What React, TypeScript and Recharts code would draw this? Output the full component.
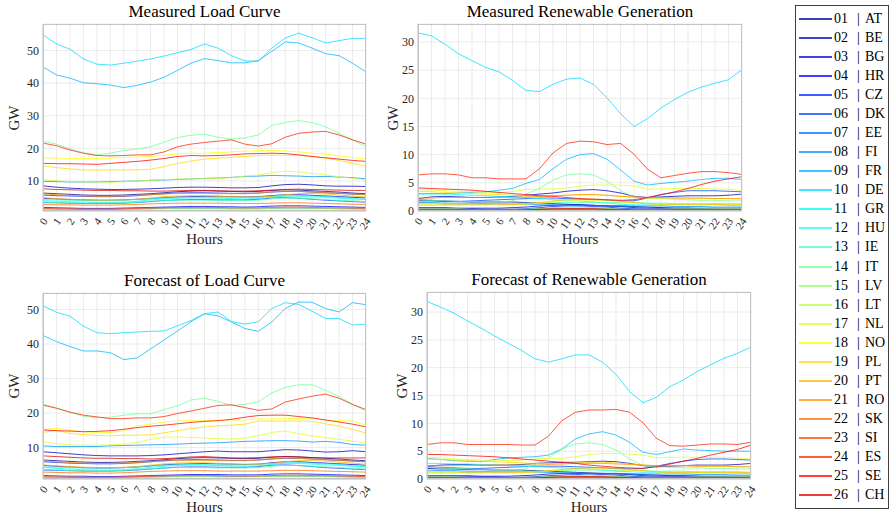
import React from 'react';
import { LineChart, Line, XAxis, YAxis, CartesianGrid } from 'recharts';

const countries = ['AT', 'BE', 'BG', 'HR', 'CZ', 'DK', 'EE', 'FI', 'FR', 'DE', 'GR', 'HU', 'IE',
  'IT', 'LV', 'LT', 'NL', 'NO', 'PL', 'PT', 'RO', 'SK', 'SI', 'ES', 'SE', 'CH'];

// jet(26)
const colors = ['#000092', '#0000b6', '#0000db', '#0000ff', '#0024ff', '#0049ff', '#006dff',
  '#0092ff', '#00b6ff', '#00dbff', '#00ffff', '#24ffdb', '#49ffb6', '#6dff92', '#92ff6d',
  '#b6ff49', '#dbff24', '#ffff00', '#ffdb00', '#ffb600', '#ff9200', '#ff6d00', '#ff4900',
  '#ff2400', '#ff0000', '#db0000'];

const hours = [0, 1, 2, 3, 4, 5, 6, 7, 8, 9, 10, 11, 12, 13, 14, 15, 16, 17, 18, 19, 20, 21, 22, 23, 24];

const measuredLoad: number[][] = [
  [6.3, 6.1, 5.9, 5.7, 5.6, 5.6, 5.7, 5.9, 6.1, 6.4, 6.7, 6.9, 7.0, 6.9, 6.8, 6.7, 6.8, 7.1, 7.3, 7.2, 7.0, 6.8, 6.6, 6.3, 6.1],
  [8.5, 8.1, 7.8, 7.6, 7.5, 7.4, 7.4, 7.5, 7.6, 7.8, 8.0, 8.1, 8.1, 8.0, 7.9, 7.9, 8.0, 8.5, 8.9, 9.0, 8.8, 8.5, 8.4, 8.4, 8.3],
  [4.7, 4.5, 4.3, 4.2, 4.1, 4.1, 4.2, 4.4, 4.6, 4.9, 5.1, 5.2, 5.3, 5.3, 5.2, 5.1, 5.2, 5.5, 5.8, 5.8, 5.6, 5.4, 5.2, 5.0, 4.8],
  [1.9, 1.8, 1.7, 1.6, 1.6, 1.6, 1.7, 1.8, 1.9, 2.0, 2.1, 2.2, 2.2, 2.1, 2.1, 2.0, 2.1, 2.3, 2.4, 2.4, 2.3, 2.2, 2.1, 2.0, 1.9],
  [5.7, 5.5, 5.4, 5.3, 5.2, 5.2, 5.3, 5.5, 5.8, 6.1, 6.3, 6.4, 6.4, 6.3, 6.2, 6.2, 6.3, 6.6, 6.8, 6.8, 6.6, 6.4, 6.2, 6.0, 5.8],
  [3.4, 3.3, 3.2, 3.1, 3.1, 3.1, 3.2, 3.4, 3.7, 4.0, 4.2, 4.3, 4.3, 4.2, 4.2, 4.2, 4.4, 4.8, 4.9, 4.7, 4.4, 4.1, 3.9, 3.7, 3.5],
  [1.4, 1.3, 1.3, 1.2, 1.2, 1.2, 1.3, 1.4, 1.5, 1.6, 1.6, 1.6, 1.6, 1.6, 1.5, 1.5, 1.5, 1.6, 1.7, 1.7, 1.6, 1.6, 1.5, 1.5, 1.4],
  [9.9, 9.8, 9.7, 9.7, 9.7, 9.8, 9.9, 10.0, 10.2, 10.3, 10.5, 10.6, 10.8, 10.9, 11.1, 11.4, 11.5, 11.7, 11.6, 11.5, 11.3, 11.4, 11.2, 11.0, 10.7],
  [44.9, 42.5, 41.5, 40.1, 39.8, 39.4, 38.6, 39.3, 40.3, 41.8, 43.9, 46.1, 47.5, 46.9, 46.2, 46.2, 46.9, 49.7, 52.6, 52.3, 50.7, 49.0, 48.4, 46.1, 43.4],
  [54.8, 52.0, 50.4, 47.4, 45.8, 45.5, 46.1, 46.7, 47.4, 48.3, 49.3, 50.3, 52.0, 50.7, 48.4, 46.8, 46.7, 50.7, 53.8, 55.3, 53.9, 52.3, 53.0, 53.7, 53.7],
  [4.0, 3.8, 3.6, 3.5, 3.4, 3.4, 3.5, 3.8, 4.2, 4.5, 4.7, 4.8, 4.8, 4.7, 4.6, 4.5, 4.6, 5.0, 5.4, 5.5, 5.4, 5.2, 5.0, 4.6, 4.3],
  [4.3, 4.2, 4.1, 4.0, 4.0, 4.0, 4.1, 4.3, 4.6, 4.8, 4.9, 5.0, 5.0, 4.9, 4.9, 4.9, 5.0, 5.3, 5.4, 5.3, 5.1, 4.9, 4.7, 4.5, 4.4],
  [3.6, 3.4, 3.3, 3.2, 3.2, 3.2, 3.3, 3.5, 3.8, 4.0, 4.1, 4.1, 4.1, 4.0, 4.0, 4.0, 4.1, 4.5, 4.8, 4.7, 4.5, 4.3, 4.1, 3.9, 3.7],
  [22.2, 21.3, 19.8, 18.7, 18.0, 18.5, 19.3, 19.8, 20.5, 21.9, 23.3, 24.0, 24.3, 23.4, 22.8, 23.2, 24.1, 27.0, 27.9, 28.5, 27.9, 26.6, 24.6, 22.6, 20.5],
  [0.9, 0.9, 0.8, 0.8, 0.8, 0.8, 0.8, 0.9, 0.9, 1.0, 1.0, 1.0, 1.0, 1.0, 1.0, 1.0, 1.0, 1.0, 1.1, 1.1, 1.0, 1.0, 1.0, 0.9, 0.9],
  [1.3, 1.2, 1.2, 1.1, 1.1, 1.1, 1.2, 1.3, 1.4, 1.5, 1.5, 1.5, 1.5, 1.5, 1.5, 1.5, 1.5, 1.6, 1.7, 1.7, 1.6, 1.6, 1.5, 1.4, 1.3],
  [10.3, 10.1, 9.8, 9.7, 9.7, 9.6, 9.8, 10.0, 10.2, 10.4, 10.6, 10.6, 10.7, 10.8, 11.0, 11.5, 11.8, 12.6, 13.0, 12.8, 12.3, 11.9, 11.3, 10.8, 10.3],
  [17.1, 17.0, 16.9, 16.9, 16.9, 17.0, 17.2, 17.3, 17.5, 17.9, 18.3, 18.5, 18.5, 18.7, 18.9, 19.1, 19.3, 19.4, 19.2, 18.9, 18.5, 18.2, 17.7, 17.2, 16.7],
  [14.7, 14.1, 13.7, 13.4, 13.3, 13.4, 13.4, 13.4, 13.6, 14.4, 15.4, 16.1, 16.7, 17.0, 17.2, 17.5, 17.8, 17.9, 17.9, 17.9, 17.5, 17.0, 16.3, 15.4, 14.6],
  [4.9, 4.6, 4.4, 4.2, 4.1, 4.1, 4.2, 4.4, 4.8, 5.2, 5.4, 5.5, 5.5, 5.3, 5.2, 5.1, 5.1, 5.3, 5.8, 6.1, 6.2, 6.0, 5.7, 5.4, 5.1],
  [6.0, 5.8, 5.6, 5.4, 5.3, 5.3, 5.4, 5.6, 5.8, 6.0, 6.2, 6.2, 6.2, 6.1, 6.1, 6.1, 6.3, 6.7, 6.9, 6.8, 6.6, 6.4, 6.2, 6.0, 5.8],
  [2.8, 2.7, 2.7, 2.6, 2.6, 2.6, 2.7, 2.8, 3.0, 3.1, 3.2, 3.2, 3.2, 3.2, 3.1, 3.1, 3.1, 3.2, 3.3, 3.3, 3.2, 3.1, 3.0, 2.9, 2.8],
  [1.6, 1.5, 1.5, 1.4, 1.4, 1.4, 1.5, 1.6, 1.7, 1.8, 1.9, 1.9, 1.9, 1.9, 1.8, 1.8, 1.8, 1.9, 2.0, 2.0, 1.9, 1.8, 1.8, 1.7, 1.6],
  [21.6, 20.8, 19.5, 18.5, 17.8, 17.7, 17.8, 18.0, 18.0, 18.9, 20.5, 21.3, 21.8, 22.2, 22.6, 21.3, 20.7, 21.4, 23.4, 24.6, 25.0, 25.2, 24.1, 22.6, 21.3],
  [15.4, 15.3, 15.3, 15.2, 15.1, 15.4, 15.7, 16.0, 16.4, 16.9, 17.5, 17.8, 17.7, 17.8, 18.0, 18.3, 18.4, 18.5, 18.4, 18.0, 17.5, 17.1, 16.7, 16.3, 16.0],
  [7.6, 7.4, 7.3, 7.2, 7.1, 7.1, 7.0, 7.0, 6.9, 6.9, 7.0, 7.1, 7.1, 7.0, 6.9, 6.9, 7.0, 7.2, 7.4, 7.5, 7.4, 7.3, 7.2, 7.1, 7.1],
];

const measuredRenewable: number[][] = [
  [1.8, 1.8, 1.7, 1.7, 1.6, 1.6, 1.6, 1.6, 1.5, 1.4, 1.3, 1.2, 1.1, 1.0, 0.9, 0.9, 0.8, 0.7, 0.6, 0.5, 0.5, 0.4, 0.3, 0.2, 0.1],
  [2.2, 2.5, 2.6, 2.5, 2.4, 2.4, 2.5, 2.6, 2.8, 3.0, 3.2, 3.5, 3.7, 3.8, 3.6, 3.2, 2.6, 2.4, 2.5, 2.6, 2.7, 2.7, 2.7, 2.8, 3.0],
  [0.6, 0.6, 0.6, 0.5, 0.5, 0.5, 0.5, 0.6, 0.7, 0.9, 1.0, 1.1, 1.1, 1.0, 0.9, 0.8, 0.6, 0.5, 0.5, 0.5, 0.5, 0.5, 0.5, 0.5, 0.5],
  [0.4, 0.4, 0.4, 0.4, 0.4, 0.3, 0.3, 0.3, 0.3, 0.4, 0.4, 0.4, 0.4, 0.4, 0.4, 0.3, 0.3, 0.3, 0.3, 0.3, 0.3, 0.3, 0.3, 0.3, 0.3],
  [0.3, 0.3, 0.3, 0.3, 0.3, 0.3, 0.3, 0.3, 0.4, 0.6, 0.8, 0.9, 0.9, 0.8, 0.7, 0.5, 0.4, 0.3, 0.3, 0.3, 0.3, 0.3, 0.3, 0.3, 0.3],
  [2.0, 1.9, 1.8, 1.7, 1.8, 1.9, 2.0, 2.1, 2.2, 2.3, 2.3, 2.2, 2.1, 2.0, 1.9, 1.8, 1.8, 2.3, 2.9, 3.3, 3.6, 3.6, 3.6, 3.5, 3.4],
  [0.2, 0.2, 0.2, 0.2, 0.2, 0.2, 0.2, 0.2, 0.2, 0.3, 0.3, 0.3, 0.3, 0.3, 0.3, 0.2, 0.2, 0.2, 0.2, 0.2, 0.2, 0.2, 0.2, 0.2, 0.2],
  [1.5, 1.5, 1.4, 1.4, 1.4, 1.3, 1.3, 1.2, 1.2, 1.1, 1.1, 1.0, 1.0, 1.0, 0.9, 0.9, 0.9, 0.9, 0.9, 0.8, 0.8, 0.8, 0.7, 0.7, 0.7],
  [3.1, 3.1, 3.1, 3.2, 3.3, 3.4, 3.7, 4.0, 4.9, 5.6, 7.5, 9.2, 10.0, 10.2, 9.2, 7.3, 5.3, 4.6, 4.9, 5.1, 5.3, 5.6, 5.8, 5.8, 5.6],
  [31.6, 31.1, 29.6, 27.9, 26.7, 25.5, 24.7, 23.2, 21.4, 21.2, 22.5, 23.4, 23.6, 22.5, 20.1, 17.3, 15.0, 16.4, 18.3, 19.8, 21.1, 22.0, 22.7, 23.3, 25.1],
  [3.0, 3.0, 3.0, 2.9, 2.8, 2.7, 2.6, 2.5, 2.4, 2.2, 2.0, 1.9, 1.8, 1.6, 1.4, 1.2, 1.1, 1.1, 1.1, 1.1, 1.1, 1.1, 1.1, 1.0, 0.9],
  [0.2, 0.2, 0.2, 0.2, 0.2, 0.2, 0.2, 0.2, 0.3, 0.4, 0.6, 0.7, 0.7, 0.6, 0.5, 0.3, 0.2, 0.2, 0.2, 0.2, 0.2, 0.2, 0.2, 0.2, 0.2],
  [1.0, 1.0, 1.1, 1.1, 1.2, 1.2, 1.3, 1.3, 1.4, 1.4, 1.5, 1.5, 1.5, 1.5, 1.5, 1.5, 1.5, 1.4, 1.4, 1.3, 1.3, 1.3, 1.3, 1.3, 1.3],
  [2.0, 1.9, 1.8, 1.7, 1.7, 1.6, 1.6, 1.8, 3.0, 4.0, 5.5, 6.4, 6.6, 6.4, 5.3, 3.6, 2.5, 2.3, 2.2, 2.1, 2.0, 1.9, 1.9, 1.8, 1.8],
  [0.1, 0.1, 0.1, 0.1, 0.1, 0.1, 0.1, 0.1, 0.1, 0.1, 0.2, 0.2, 0.2, 0.2, 0.1, 0.1, 0.1, 0.1, 0.1, 0.1, 0.1, 0.1, 0.1, 0.1, 0.1],
  [0.4, 0.4, 0.4, 0.4, 0.3, 0.3, 0.3, 0.3, 0.3, 0.4, 0.4, 0.5, 0.5, 0.4, 0.4, 0.3, 0.3, 0.3, 0.3, 0.4, 0.4, 0.4, 0.4, 0.4, 0.4],
  [3.8, 3.7, 3.6, 3.5, 3.4, 3.3, 3.3, 3.5, 3.8, 3.9, 3.9, 4.1, 4.4, 4.6, 4.6, 4.6, 4.4, 3.9, 3.9, 4.0, 4.0, 4.0, 3.9, 3.9, 3.6],
  [1.1, 1.1, 1.0, 1.0, 1.0, 1.0, 1.0, 1.1, 1.2, 1.4, 1.6, 1.8, 1.9, 1.9, 1.8, 1.6, 1.4, 1.3, 1.2, 1.2, 1.2, 1.1, 1.1, 1.1, 1.1],
  [3.5, 3.4, 3.3, 3.2, 3.1, 3.0, 2.9, 2.8, 2.7, 2.7, 2.7, 2.8, 2.9, 2.9, 2.8, 2.6, 2.4, 2.3, 2.3, 2.3, 2.3, 2.2, 2.2, 2.2, 2.1],
  [1.3, 1.3, 1.2, 1.2, 1.2, 1.2, 1.2, 1.2, 1.3, 1.5, 1.8, 2.0, 2.1, 2.1, 2.0, 1.8, 1.5, 1.3, 1.2, 1.2, 1.2, 1.2, 1.2, 1.1, 1.1],
  [2.3, 2.3, 2.4, 2.4, 2.4, 2.4, 2.4, 2.4, 2.5, 2.6, 2.7, 2.8, 2.9, 2.9, 2.8, 2.6, 2.5, 2.4, 2.4, 2.3, 2.3, 2.3, 2.2, 2.2, 2.2],
  [0.1, 0.1, 0.1, 0.1, 0.1, 0.1, 0.1, 0.1, 0.2, 0.3, 0.3, 0.4, 0.4, 0.3, 0.3, 0.2, 0.1, 0.1, 0.1, 0.1, 0.1, 0.1, 0.1, 0.1, 0.1],
  [0.1, 0.1, 0.1, 0.1, 0.1, 0.1, 0.1, 0.1, 0.1, 0.2, 0.2, 0.2, 0.2, 0.2, 0.2, 0.1, 0.1, 0.1, 0.1, 0.1, 0.1, 0.1, 0.1, 0.1, 0.1],
  [6.4, 6.6, 6.6, 6.4, 5.9, 5.9, 5.7, 5.7, 5.7, 7.5, 10.3, 12.0, 12.4, 12.3, 11.8, 12.0, 10.1, 7.4, 5.9, 6.3, 6.7, 7.0, 7.0, 6.8, 6.5],
  [4.1, 4.0, 3.9, 3.8, 3.7, 3.5, 3.3, 3.1, 2.9, 2.7, 2.6, 2.4, 2.2, 2.1, 2.0, 1.9, 2.0, 2.4, 2.9, 3.4, 4.0, 4.7, 5.3, 5.7, 6.1],
  [0.2, 0.2, 0.2, 0.2, 0.2, 0.2, 0.2, 0.2, 0.2, 0.3, 0.4, 0.4, 0.4, 0.4, 0.3, 0.3, 0.2, 0.2, 0.2, 0.2, 0.2, 0.2, 0.2, 0.2, 0.2],
];

const forecastLoad: number[][] = [
  [6.4, 6.2, 6.0, 5.8, 5.7, 5.7, 5.8, 6.0, 6.2, 6.5, 6.8, 7.0, 7.1, 7.0, 6.9, 6.8, 6.9, 7.2, 7.4, 7.3, 7.1, 6.9, 6.7, 6.4, 6.2],
  [8.8, 8.5, 8.2, 7.9, 7.7, 7.6, 7.6, 7.6, 7.7, 7.9, 8.2, 8.5, 8.8, 9.0, 8.8, 8.8, 8.8, 9.1, 9.4, 9.3, 9.0, 8.7, 8.8, 9.1, 8.8],
  [4.8, 4.6, 4.4, 4.2, 4.1, 4.1, 4.2, 4.4, 4.7, 5.0, 5.2, 5.3, 5.4, 5.3, 5.2, 5.1, 5.2, 5.6, 5.9, 5.9, 5.7, 5.5, 5.3, 5.1, 4.9],
  [1.9, 1.8, 1.7, 1.7, 1.6, 1.6, 1.7, 1.8, 1.9, 2.0, 2.1, 2.2, 2.2, 2.2, 2.1, 2.1, 2.1, 2.3, 2.4, 2.4, 2.3, 2.2, 2.1, 2.0, 1.9],
  [5.9, 5.7, 5.5, 5.4, 5.3, 5.3, 5.4, 5.6, 5.9, 6.2, 6.4, 6.5, 6.5, 6.4, 6.3, 6.3, 6.4, 6.7, 6.9, 6.9, 6.7, 6.5, 6.3, 6.1, 5.9],
  [3.5, 3.4, 3.3, 3.2, 3.2, 3.2, 3.3, 3.5, 3.8, 4.1, 4.3, 4.4, 4.4, 4.3, 4.3, 4.3, 4.5, 4.9, 5.0, 4.8, 4.5, 4.2, 4.0, 3.8, 3.6],
  [1.4, 1.3, 1.3, 1.3, 1.2, 1.2, 1.3, 1.4, 1.5, 1.6, 1.6, 1.7, 1.7, 1.6, 1.6, 1.6, 1.6, 1.7, 1.7, 1.7, 1.7, 1.6, 1.6, 1.5, 1.4],
  [10.5, 10.3, 10.3, 10.3, 10.3, 10.5, 10.6, 10.7, 10.8, 10.9, 11.0, 11.2, 11.3, 11.4, 11.6, 11.8, 11.9, 12.0, 12.0, 11.9, 11.6, 11.8, 11.5, 10.9, 10.7],
  [42.5, 40.7, 39.3, 38.0, 38.0, 37.5, 35.5, 36.0, 38.6, 41.2, 43.8, 46.5, 48.8, 48.2, 46.4, 44.5, 43.7, 46.4, 50.3, 52.2, 52.1, 50.3, 49.3, 52.0, 51.4],
  [51.1, 49.2, 48.1, 45.2, 43.3, 43.0, 43.3, 43.5, 43.7, 43.8, 45.3, 46.8, 48.8, 49.3, 46.5, 45.8, 46.5, 50.3, 52.0, 51.5, 49.5, 47.4, 47.4, 45.5, 45.8],
  [4.2, 4.0, 3.8, 3.6, 3.5, 3.5, 3.6, 3.9, 4.3, 4.6, 4.8, 4.9, 4.9, 4.8, 4.7, 4.6, 4.7, 5.1, 5.5, 5.6, 5.5, 5.3, 5.1, 4.7, 4.4],
  [4.4, 4.3, 4.2, 4.1, 4.1, 4.1, 4.2, 4.4, 4.7, 4.9, 5.0, 5.1, 5.1, 5.0, 5.0, 5.0, 5.1, 5.4, 5.5, 5.4, 5.2, 5.0, 4.8, 4.6, 4.5],
  [3.7, 3.5, 3.4, 3.3, 3.3, 3.3, 3.4, 3.6, 3.9, 4.1, 4.2, 4.2, 4.2, 4.1, 4.1, 4.1, 4.2, 4.6, 4.9, 4.8, 4.6, 4.4, 4.2, 4.0, 3.8],
  [22.6, 21.5, 20.2, 19.1, 18.7, 18.8, 19.4, 19.8, 19.8, 21.0, 22.1, 23.8, 24.3, 23.4, 22.2, 22.5, 23.3, 25.8, 27.5, 28.2, 28.2, 26.6, 24.8, 22.6, 20.6],
  [0.9, 0.9, 0.8, 0.8, 0.8, 0.8, 0.8, 0.9, 1.0, 1.0, 1.0, 1.1, 1.1, 1.0, 1.0, 1.0, 1.0, 1.1, 1.1, 1.1, 1.0, 1.0, 1.0, 0.9, 0.9],
  [1.3, 1.3, 1.2, 1.2, 1.1, 1.1, 1.2, 1.3, 1.4, 1.5, 1.6, 1.6, 1.6, 1.5, 1.5, 1.5, 1.6, 1.7, 1.7, 1.7, 1.7, 1.6, 1.5, 1.4, 1.4],
  [11.7, 11.1, 10.8, 10.7, 10.7, 10.8, 11.0, 11.5, 12.4, 13.0, 13.1, 12.9, 12.8, 12.6, 12.5, 12.8, 13.5, 14.4, 14.8, 14.0, 13.4, 12.9, 12.4, 11.9, 11.3],
  [15.2, 15.6, 15.0, 14.6, 14.4, 14.4, 14.9, 16.3, 16.8, 17.4, 17.7, 17.8, 17.8, 17.9, 18.0, 18.0, 18.3, 18.3, 18.4, 18.4, 18.3, 18.0, 17.8, 17.7, 16.5],
  [14.4, 15.0, 14.1, 13.8, 13.5, 13.4, 13.6, 13.6, 13.7, 14.3, 14.9, 15.5, 16.0, 16.3, 16.5, 16.8, 17.7, 17.7, 17.7, 17.7, 17.6, 16.9, 16.2, 15.3, 14.2],
  [5.0, 4.7, 4.5, 4.3, 4.2, 4.2, 4.3, 4.5, 4.9, 5.3, 5.5, 5.6, 5.6, 5.4, 5.3, 5.2, 5.2, 5.4, 5.9, 6.2, 6.3, 6.1, 5.8, 5.5, 5.2],
  [6.1, 5.9, 5.7, 5.5, 5.4, 5.4, 5.5, 5.7, 5.9, 6.1, 6.3, 6.3, 6.3, 6.2, 6.2, 6.2, 6.4, 6.8, 7.0, 6.9, 6.7, 6.5, 6.3, 6.1, 5.9],
  [2.9, 2.8, 2.7, 2.7, 2.6, 2.6, 2.7, 2.9, 3.1, 3.2, 3.3, 3.3, 3.3, 3.2, 3.2, 3.2, 3.2, 3.3, 3.4, 3.4, 3.3, 3.2, 3.1, 3.0, 2.9],
  [1.6, 1.5, 1.5, 1.4, 1.4, 1.4, 1.5, 1.6, 1.7, 1.8, 1.9, 1.9, 1.9, 1.9, 1.8, 1.8, 1.8, 1.9, 2.0, 2.0, 1.9, 1.9, 1.8, 1.7, 1.6],
  [22.3, 21.4, 20.3, 19.4, 18.9, 18.4, 18.4, 18.6, 18.6, 19.0, 19.9, 20.6, 21.4, 22.2, 22.4, 21.6, 20.8, 21.2, 23.2, 24.1, 24.9, 25.5, 24.3, 22.5, 21.0],
  [15.1, 14.9, 14.8, 14.6, 14.7, 14.9, 15.3, 15.8, 16.2, 16.5, 16.9, 17.3, 17.6, 17.8, 18.2, 18.8, 19.3, 19.4, 19.4, 19.0, 18.6, 18.0, 17.4, 16.8, 16.0],
  [7.6, 7.4, 7.2, 7.0, 6.9, 6.9, 6.8, 6.8, 6.7, 6.8, 7.0, 7.3, 7.4, 7.2, 7.0, 7.0, 7.1, 7.3, 7.4, 7.3, 7.1, 7.0, 7.0, 7.0, 7.0],
];

const forecastRenewable: number[][] = [
  [1.9, 1.8, 1.8, 1.7, 1.7, 1.6, 1.6, 1.6, 1.5, 1.4, 1.3, 1.2, 1.1, 1.0, 1.0, 0.9, 0.8, 0.7, 0.6, 0.6, 0.5, 0.4, 0.4, 0.3, 0.2],
  [2.3, 2.5, 2.6, 2.6, 2.5, 2.5, 2.5, 2.6, 2.8, 2.9, 3.0, 3.0, 3.1, 3.2, 3.1, 2.8, 2.4, 2.2, 2.3, 2.4, 2.5, 2.5, 2.5, 2.6, 2.8],
  [0.6, 0.6, 0.6, 0.6, 0.5, 0.5, 0.5, 0.6, 0.7, 0.9, 1.0, 1.0, 1.0, 1.0, 0.9, 0.8, 0.6, 0.5, 0.5, 0.5, 0.5, 0.5, 0.5, 0.5, 0.5],
  [0.4, 0.4, 0.4, 0.4, 0.4, 0.4, 0.3, 0.3, 0.3, 0.4, 0.4, 0.4, 0.4, 0.4, 0.4, 0.3, 0.3, 0.3, 0.3, 0.3, 0.3, 0.3, 0.3, 0.3, 0.3],
  [0.3, 0.3, 0.3, 0.3, 0.3, 0.3, 0.3, 0.3, 0.4, 0.6, 0.7, 0.8, 0.9, 0.8, 0.7, 0.5, 0.4, 0.3, 0.3, 0.3, 0.3, 0.3, 0.3, 0.3, 0.3],
  [2.2, 2.1, 2.0, 1.9, 1.9, 2.0, 2.1, 2.2, 2.3, 2.3, 2.3, 2.2, 2.1, 2.0, 1.9, 1.8, 1.9, 2.3, 2.8, 3.2, 3.5, 3.6, 3.6, 3.5, 3.4],
  [0.2, 0.2, 0.2, 0.2, 0.2, 0.2, 0.2, 0.2, 0.2, 0.3, 0.3, 0.3, 0.3, 0.3, 0.3, 0.2, 0.2, 0.2, 0.2, 0.2, 0.2, 0.2, 0.2, 0.2, 0.2],
  [1.6, 1.5, 1.5, 1.4, 1.4, 1.3, 1.3, 1.3, 1.2, 1.2, 1.1, 1.1, 1.0, 1.0, 1.0, 0.9, 0.9, 0.9, 0.9, 0.9, 0.8, 0.8, 0.8, 0.7, 0.7],
  [3.7, 3.5, 3.3, 3.2, 3.1, 3.5, 3.8, 3.9, 4.0, 4.3, 5.4, 7.2, 8.1, 8.5, 7.9, 6.6, 4.8, 4.4, 4.9, 5.4, 5.2, 5.1, 5.0, 5.0, 5.0],
  [31.9, 30.9, 29.8, 28.4, 27.1, 25.7, 24.4, 23.1, 21.6, 21.0, 21.6, 22.3, 22.3, 21.0, 18.8, 15.7, 13.7, 14.7, 16.6, 17.8, 19.3, 20.5, 21.7, 22.6, 23.7],
  [2.8, 2.8, 2.7, 2.7, 2.6, 2.5, 2.4, 2.3, 2.2, 2.1, 2.0, 1.9, 1.8, 1.6, 1.4, 1.3, 1.2, 1.2, 1.2, 1.1, 1.1, 1.1, 1.1, 1.0, 1.0],
  [0.2, 0.2, 0.2, 0.2, 0.2, 0.2, 0.2, 0.2, 0.3, 0.4, 0.5, 0.6, 0.7, 0.6, 0.5, 0.3, 0.2, 0.2, 0.2, 0.2, 0.2, 0.2, 0.2, 0.2, 0.2],
  [1.1, 1.1, 1.1, 1.2, 1.2, 1.3, 1.3, 1.4, 1.4, 1.5, 1.5, 1.6, 1.6, 1.6, 1.5, 1.5, 1.5, 1.4, 1.4, 1.4, 1.3, 1.3, 1.3, 1.3, 1.2],
  [2.1, 2.0, 1.9, 1.8, 1.7, 1.6, 1.6, 1.6, 2.6, 3.8, 5.4, 6.3, 6.5, 6.2, 5.2, 3.6, 2.4, 2.2, 2.1, 2.0, 2.0, 1.9, 1.9, 1.8, 1.8],
  [0.1, 0.1, 0.1, 0.1, 0.1, 0.1, 0.1, 0.1, 0.1, 0.1, 0.2, 0.2, 0.2, 0.2, 0.1, 0.1, 0.1, 0.1, 0.1, 0.1, 0.1, 0.1, 0.1, 0.1, 0.1],
  [0.4, 0.4, 0.4, 0.3, 0.3, 0.3, 0.3, 0.3, 0.3, 0.4, 0.4, 0.5, 0.5, 0.5, 0.4, 0.3, 0.3, 0.3, 0.3, 0.3, 0.4, 0.4, 0.4, 0.4, 0.4],
  [3.9, 3.8, 3.6, 3.5, 3.4, 3.3, 3.3, 3.4, 3.6, 3.7, 3.7, 4.0, 4.4, 4.6, 4.6, 4.5, 4.3, 3.8, 3.9, 3.9, 3.9, 3.9, 3.9, 3.8, 3.6],
  [1.1, 1.1, 1.1, 1.0, 1.0, 1.0, 1.0, 1.1, 1.2, 1.4, 1.6, 1.7, 1.8, 1.8, 1.7, 1.5, 1.4, 1.3, 1.2, 1.2, 1.2, 1.1, 1.1, 1.1, 1.1],
  [3.6, 3.5, 3.4, 3.3, 3.2, 3.1, 3.0, 2.9, 2.8, 2.8, 2.8, 2.9, 3.0, 3.0, 2.9, 2.7, 2.5, 2.4, 2.4, 2.4, 2.3, 2.3, 2.3, 2.2, 2.2],
  [1.3, 1.3, 1.3, 1.2, 1.2, 1.2, 1.2, 1.2, 1.3, 1.5, 1.7, 1.9, 2.0, 2.0, 1.9, 1.7, 1.5, 1.3, 1.2, 1.2, 1.2, 1.2, 1.2, 1.2, 1.1],
  [2.4, 2.4, 2.4, 2.4, 2.5, 2.5, 2.5, 2.5, 2.5, 2.6, 2.7, 2.8, 2.8, 2.8, 2.7, 2.6, 2.5, 2.4, 2.4, 2.4, 2.3, 2.3, 2.3, 2.2, 2.2],
  [0.1, 0.1, 0.1, 0.1, 0.1, 0.1, 0.1, 0.1, 0.2, 0.3, 0.3, 0.4, 0.4, 0.3, 0.3, 0.2, 0.1, 0.1, 0.1, 0.1, 0.1, 0.1, 0.1, 0.1, 0.1],
  [0.1, 0.1, 0.1, 0.1, 0.1, 0.1, 0.1, 0.1, 0.1, 0.2, 0.2, 0.2, 0.2, 0.2, 0.2, 0.1, 0.1, 0.1, 0.1, 0.1, 0.1, 0.1, 0.1, 0.1, 0.1],
  [6.2, 6.5, 6.5, 6.2, 6.2, 6.2, 6.2, 6.1, 6.1, 7.7, 10.5, 12.0, 12.4, 12.4, 12.5, 12.0, 10.1, 7.3, 6.0, 5.9, 6.1, 6.3, 6.3, 6.2, 6.6],
  [4.4, 4.4, 4.3, 4.2, 4.1, 4.0, 3.8, 3.6, 3.4, 3.2, 3.0, 2.8, 2.5, 2.3, 2.1, 2.0, 1.9, 2.2, 2.7, 3.2, 3.7, 4.3, 4.8, 5.3, 6.1],
  [0.2, 0.2, 0.2, 0.2, 0.2, 0.2, 0.2, 0.2, 0.2, 0.3, 0.4, 0.4, 0.4, 0.4, 0.3, 0.3, 0.2, 0.2, 0.2, 0.2, 0.2, 0.2, 0.2, 0.2, 0.2],
];

const FONT = '"Liberation Serif", "Times New Roman", serif';
const TEXT = '#262626';

function toRows(series: number[][]) {
  return hours.map((h, i) => {
    const row: Record<string, number> = { hour: h };
    series.forEach((s, k) => {
      row['c' + k] = s[i];
    });
    return row;
  });
}

const HourTick = (props: any) => {
  const { x, y, payload } = props;
  return (
    <text
      transform={`translate(${x + 2},${y + 8}) rotate(-55)`}
      textAnchor="end"
      dominantBaseline="central"
      fontSize={11}
      fill={TEXT}
      fontFamily={FONT}
    >
      {payload.value}
    </text>
  );
};

interface PanelProps {
  title: string;
  series: number[][];
  left: number;
  top: number;
  width: number;
  height: number;
  marginTop: number;
  marginRight: number;
  yAxisWidth: number;
  xAxisHeight: number;
  domain: [number, number];
  yTicks: number[];
  gwGap: number;
}

function Panel(p: PanelProps) {
  const rows = toRows(p.series);
  const plotLeft = p.left + p.yAxisWidth;
  const plotTop = p.top + p.marginTop;
  const plotW = p.width - p.yAxisWidth - p.marginRight;
  const plotH = p.height - p.marginTop - p.xAxisHeight;
  const plotBottom = plotTop + plotH;
  return (
    <>
      <div
        style={{
          position: 'absolute',
          left: plotLeft - 60,
          width: plotW + 120,
          top: plotTop - 22,
          textAlign: 'center',
          fontFamily: FONT,
          fontSize: 17,
          lineHeight: '20px',
          color: '#000',
        }}
      >
        {p.title}
      </div>
      <div style={{ position: 'absolute', left: p.left, top: p.top }}>
        <LineChart
          width={p.width}
          height={p.height}
          data={rows}
          margin={{ top: p.marginTop, right: p.marginRight, bottom: 0, left: 0 }}
        >
          <CartesianGrid stroke="#ebebeb" strokeWidth={1} />
          <XAxis
            dataKey="hour"
            type="number"
            domain={[0, 24]}
            ticks={hours}
            interval={0}
            height={p.xAxisHeight}
            tickLine={false}
            tickSize={0}
            tickMargin={0}
            axisLine={{ stroke: '#c4c4c4' }}
            tick={<HourTick />}
          />
          <YAxis
            type="number"
            domain={p.domain}
            allowDataOverflow
            ticks={p.yTicks}
            width={p.yAxisWidth}
            tickLine={false}
            tickSize={0}
            tickMargin={4}
            axisLine={{ stroke: '#c4c4c4' }}
            tick={{ fontSize: 12, fill: TEXT, fontFamily: FONT }}
          />
          {p.series.map((_, k) => (
            <Line
              key={countries[k]}
              dataKey={'c' + k}
              stroke={colors[k]}
              strokeOpacity={0.75}
              strokeWidth={1}
              dot={false}
              activeDot={false}
              type="linear"
              isAnimationActive={false}
            />
          ))}
        </LineChart>
      </div>
      <div
        style={{
          position: 'absolute',
          left: plotLeft,
          top: plotTop,
          width: plotW,
          height: plotH,
          border: '1px solid #c4c4c4',
          boxSizing: 'border-box',
          pointerEvents: 'none',
        }}
      />
      <div
        style={{
          position: 'absolute',
          left: plotLeft,
          width: plotW,
          top: plotBottom + 19,
          textAlign: 'center',
          fontFamily: FONT,
          fontSize: 15,
          lineHeight: '18px',
          color: TEXT,
        }}
      >
        Hours
      </div>
      <div
        style={{
          position: 'absolute',
          left: plotLeft - p.gwGap - 30,
          top: plotTop + plotH / 2 - 9,
          width: 60,
          textAlign: 'center',
          fontFamily: FONT,
          fontSize: 15,
          lineHeight: '18px',
          color: TEXT,
          transform: 'rotate(-90deg)',
        }}
      >
        GW
      </div>
    </>
  );
}

function CountryLegend() {
  return (
    <div
      style={{
        position: 'absolute',
        left: 795,
        top: 5,
        width: 94,
        height: 504,
        border: '1px solid #404040',
        boxSizing: 'border-box',
        background: '#fff',
      }}
    >
      {countries.map((c, i) => {
        const y = 13 + i * 19.04;
        return (
          <div key={c} style={{ position: 'absolute', left: 0, top: y - 9, height: 18, width: 92 }}>
            <svg width={36} height={18} style={{ position: 'absolute', left: 3, top: 0 }}>
              <line x1={0} y1={9} x2={33} y2={9} stroke={colors[i]} strokeWidth={1.6} />
            </svg>
            <span
              style={{
                position: 'absolute',
                left: 38,
                top: 0,
                fontFamily: FONT,
                fontSize: 14,
                lineHeight: '18px',
                color: '#000',
                whiteSpace: 'nowrap',
              }}
            >
              {String(i + 1).padStart(2, '0')}
            </span>
            <span
              style={{
                position: 'absolute',
                left: 61,
                top: 0,
                fontFamily: FONT,
                fontSize: 14,
                lineHeight: '18px',
                color: '#000',
              }}
            >
              |
            </span>
            <span
              style={{
                position: 'absolute',
                left: 69,
                top: 0,
                fontFamily: FONT,
                fontSize: 14,
                lineHeight: '18px',
                color: '#000',
              }}
            >
              {c}
            </span>
          </div>
        );
      })}
    </div>
  );
}

export default function App() {
  return (
    <div style={{ position: 'relative', width: 891, height: 517, overflow: 'hidden', background: '#fff' }}>
      <style>{'body{margin:0}'}</style>
      <Panel
        title="Measured Load Curve"
        series={measuredLoad}
        left={0}
        top={0}
        width={380}
        height={255}
        marginTop={24}
        marginRight={14}
        yAxisWidth={43}
        xAxisHeight={44}
        domain={[0.8, 58.1]}
        yTicks={[10, 20, 30, 40, 50]}
        gwGap={29}
      />
      <Panel
        title="Measured Renewable Generation"
        series={measuredRenewable}
        left={380}
        top={0}
        width={380}
        height={255}
        marginTop={24}
        marginRight={18}
        yAxisWidth={38}
        xAxisHeight={44}
        domain={[0, 33.2]}
        yTicks={[0, 5, 10, 15, 20, 25, 30]}
        gwGap={25}
      />
      <Panel
        title="Forecast of Load Curve"
        series={forecastLoad}
        left={0}
        top={262}
        width={380}
        height={255}
        marginTop={31}
        marginRight={14}
        yAxisWidth={43}
        xAxisHeight={38}
        domain={[0.9, 54.8]}
        yTicks={[10, 20, 30, 40, 50]}
        gwGap={29}
      />
      <Panel
        title="Forecast of Renewable Generation"
        series={forecastRenewable}
        left={389}
        top={262}
        width={380}
        height={255}
        marginTop={30}
        marginRight={18}
        yAxisWidth={38}
        xAxisHeight={38}
        domain={[0, 33.6]}
        yTicks={[0, 5, 10, 15, 20, 25, 30]}
        gwGap={25}
      />
      <CountryLegend />
    </div>
  );
}
